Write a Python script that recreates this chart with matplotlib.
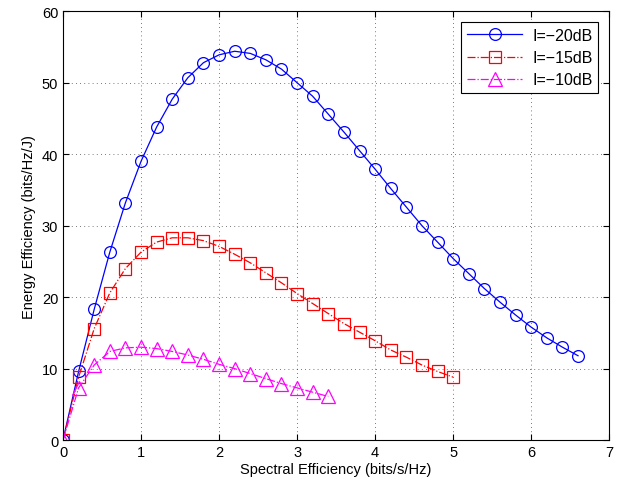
import numpy as np
import matplotlib
matplotlib.use("Agg")
import matplotlib.pyplot as plt

plt.rcParams['font.family'] = ['Liberation Sans', 'DejaVu Sans']

# spectral efficiency samples (bits/s/Hz)
se_20 = [0.0, 0.2, 0.4, 0.6, 0.8, 1.0, 1.2, 1.4, 1.6, 1.8, 2.0, 2.2, 2.4, 2.6, 2.8, 3.0, 3.2,
         3.4, 3.6, 3.8, 4.0, 4.2, 4.4, 4.6, 4.8, 5.0, 5.2, 5.4, 5.6, 5.8, 6.0, 6.2, 6.4, 6.6]
ee_20 = [0.0, 9.6, 18.3, 26.3, 33.2, 39.0, 43.8, 47.7, 50.7, 52.8, 53.9, 54.4, 54.1, 53.2,
         51.9, 50.0, 48.1, 45.6, 43.1, 40.5, 37.9, 35.2, 32.6, 30.0, 27.7, 25.4, 23.3, 21.2,
         19.3, 17.5, 15.8, 14.3, 13.0, 11.8]

se_15 = [0.0, 0.2, 0.4, 0.6, 0.8, 1.0, 1.2, 1.4, 1.6, 1.8, 2.0, 2.2, 2.4, 2.6, 2.8, 3.0, 3.2,
         3.4, 3.6, 3.8, 4.0, 4.2, 4.4, 4.6, 4.8, 5.0]
ee_15 = [0.0, 8.8, 15.6, 20.6, 24.0, 26.3, 27.7, 28.3, 28.3, 27.9, 27.1, 26.0, 24.8, 23.4,
         22.0, 20.5, 19.1, 17.7, 16.3, 15.1, 13.9, 12.6, 11.6, 10.5, 9.6, 8.8]

se_10 = [0.0, 0.2, 0.4, 0.6, 0.8, 1.0, 1.2, 1.4, 1.6, 1.8, 2.0, 2.2, 2.4, 2.6, 2.8, 3.0, 3.2, 3.4]
ee_10 = [0.0, 7.3, 10.5, 12.4, 12.9, 13.0, 12.8, 12.4, 11.9, 11.3, 10.6, 10.0, 9.3, 8.6,
         7.9, 7.3, 6.7, 6.1]

labels = ['I=\u221220dB', 'I=\u221215dB', 'I=\u221210dB']

fig = plt.figure(figsize=(6.3, 4.89), dpi=100)
ax = fig.add_axes([0.1, 0.098, 0.867, 0.877])

ax.plot(se_20, ee_20, '-', color='#0000ff', lw=0.9, marker='o', ms=8.5, mfc='none',
        mew=0.9, label=labels[0])
ax.plot(se_15, ee_15, '-.', color='#ff0000', lw=0.9, marker='s', ms=8.5, mfc='none',
        mew=0.9, label=labels[1])
ax.plot(se_10, ee_10, '-.', color='#ff00ff', lw=0.9, marker='^', ms=9.5, mfc='none',
        mew=0.9, label=labels[2])

ax.set_xlim(0, 7)
ax.set_ylim(0, 60)
ax.set_xticks(range(0, 8))
ax.set_yticks(range(0, 61, 10))
ax.grid(True, linestyle=(0, (1, 4)), color='black', lw=0.6, alpha=0.7)
ax.tick_params(direction='in', top=True, right=True, labelsize=10.5, length=4)
for s in ax.spines.values():
    s.set_linewidth(0.8)
ax.set_xlabel('Spectral Efficiency (bits/s/Hz)', fontsize=10.5, labelpad=2)
ax.set_ylabel('Energy Efficiency (bits/Hz/J)', fontsize=10.5, labelpad=4)

leg = ax.legend(loc='upper right', fontsize=11.5, fancybox=False, edgecolor='black',
                framealpha=1, handlelength=3.5, borderaxespad=0.7, labelspacing=0.45,
                borderpad=0.35, handletextpad=0.6)
leg.get_frame().set_linewidth(0.8)

fig.savefig('out.png', dpi=100)
